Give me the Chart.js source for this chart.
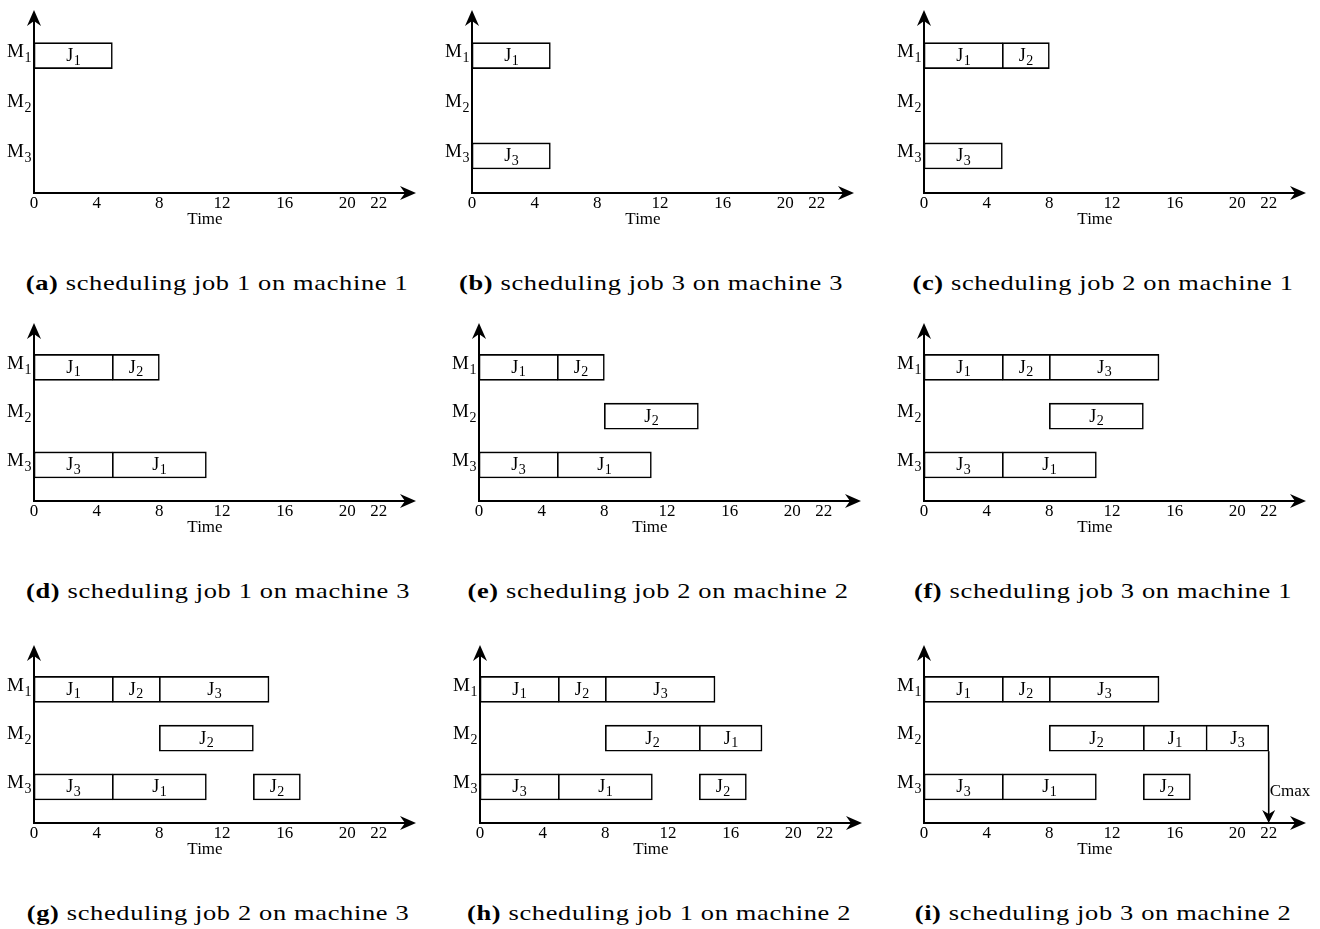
<!DOCTYPE html>
<html>
<head>
<meta charset="utf-8">
<script src="https://cdn.jsdelivr.net/npm/chart.js@4/dist/chart.umd.min.js"></script>
<style>
  html, body { margin: 0; padding: 0; background: #fff; }
  body { width: 1320px; height: 929px; position: relative; overflow: hidden; }
  canvas { position: absolute; }
  .caption {
    position: absolute; width: 520px; text-align: center; white-space: nowrap;
    font-family: "Liberation Serif", "Times New Roman", serif; font-size: 22px; line-height: 22px;
    letter-spacing: 0.55px; color: #000;
    transform: scaleX(1.2); transform-origin: 50% 50%;
  }
  .caption b { font-weight: bold; }
</style>
</head>
<body>
<script>
// Schedule operations, in the order they are placed on the machines.
const machineNames = ['M', 'M', 'M'];
const machineNumbers = [1, 2, 3];
const opJob     = [1, 3, 2, 1, 2, 3, 2, 1, 3];
const opMachine = [1, 3, 1, 3, 2, 1, 3, 2, 2];
const opStart   = [0, 0, 5, 5, 8, 8, 14, 14, 18];
const opEnd     = [5, 5, 8, 11, 14, 15, 17, 18, 22];
const timeTicks = [0, 4, 8, 12, 16, 20, 22];
const panelLetters = ['a', 'b', 'c', 'd', 'e', 'f', 'g', 'h', 'i'];
const makespan = 22;

// Page layout of the nine small charts.
const originX = [34, 472, 924, 34, 479, 924, 34, 480, 924];
const axisY   = [193, 193, 193, 501, 501, 501, 823, 823, 823];
const plotH   = [183, 183, 183, 178, 178, 178, 178, 178, 178];
const captionCenter = [217, 651, 1103, 218, 658, 1103, 218, 659, 1103];
const captionBaseline = [290, 290, 290, 598, 598, 598, 920, 920, 920];

const SERIF = '"Liberation Serif", "Times New Roman", serif';
const Y_AXIS_W = 40, X_AXIS_H = 46, PAD_TOP = 14, PAD_RIGHT = 12;
const PLOT_W = 382;
const CW = Y_AXIS_W + PLOT_W + PAD_RIGHT;
const EDGE = 1.6;

function arrowHead(ctx, tipX, tipY, dx, dy, len, half, notch) {
  const px = -dy, py = dx;
  ctx.beginPath();
  ctx.moveTo(tipX, tipY);
  ctx.lineTo(tipX - dx * len + px * half, tipY - dy * len + py * half);
  ctx.lineTo(tipX - dx * notch, tipY - dy * notch);
  ctx.lineTo(tipX - dx * len - px * half, tipY - dy * len - py * half);
  ctx.closePath();
  ctx.fill();
}

// Letter with a numeric subscript, e.g. J1 / M3.
function subText(ctx, main, sub, x, y, align, mainSize, subSize, mainDy, subDy) {
  ctx.font = mainSize + 'px ' + SERIF;
  const mw = ctx.measureText(main).width;
  ctx.font = subSize + 'px ' + SERIF;
  const sw = ctx.measureText(sub).width;
  let x0 = x;
  if (align === 'center') x0 = x - (mw + sw) / 2;
  else if (align === 'right') x0 = x - (mw + sw);
  ctx.textAlign = 'left';
  ctx.textBaseline = 'alphabetic';
  ctx.font = mainSize + 'px ' + SERIF;
  ctx.fillText(main, x0, y + mainDy);
  ctx.font = subSize + 'px ' + SERIF;
  ctx.fillText(sub, x0 + mw + 0.5, y + subDy);
}

const ganttDecor = {
  id: 'ganttDecor',
  afterDatasetsDraw(chart) {
    const ctx = chart.ctx;
    const ds = chart.data.datasets[0];
    const meta = chart.getDatasetMeta(0);
    ctx.save();
    ctx.fillStyle = '#000';
    meta.data.forEach((bar, i) => {
      const cx = (bar.x + bar.base) / 2;
      subText(ctx, 'J', String(ds.data[i].job), cx, bar.y, 'center', 18, 14, 5.5, 9);
    });
    ctx.restore();
  },
  afterDraw(chart, args, opts) {
    const ctx = chart.ctx;
    const a = chart.chartArea;
    const xs = chart.scales.x, ys = chart.scales.y;
    ctx.save();
    ctx.strokeStyle = '#000';
    ctx.fillStyle = '#000';
    ctx.lineWidth = 2;
    // axes with arrow heads
    ctx.beginPath();
    ctx.moveTo(a.left - 1, a.bottom);
    ctx.lineTo(a.right - 10, a.bottom);
    ctx.moveTo(a.left, a.bottom + 1);
    ctx.lineTo(a.left, a.top + 10);
    ctx.stroke();
    arrowHead(ctx, a.right, a.bottom, 1, 0, 16, 7, 11);
    arrowHead(ctx, a.left, a.top, 0, -1, 16, 7, 11);
    // machine labels
    machineNumbers.forEach((n, i) => {
      const y = ys.getPixelForValue(n);
      subText(ctx, machineNames[i], String(n), a.left - 3, y, 'right', 19, 14, 1.2, 6.3);
    });
    // axis title
    ctx.font = '17px ' + SERIF;
    ctx.textAlign = 'center';
    ctx.textBaseline = 'alphabetic';
    ctx.fillText('Time', a.left + 171, a.bottom + 31);
    // makespan marker
    if (opts && opts.showMakespan) {
      const x = xs.getPixelForValue(makespan);
      const yTop = ys.getPixelForValue(2) + 13;
      ctx.lineWidth = 1.6;
      ctx.beginPath();
      ctx.moveTo(x, yTop);
      ctx.lineTo(x, a.bottom - 8);
      ctx.stroke();
      arrowHead(ctx, x, a.bottom, 0, 1, 13, 6.5, 9);
      ctx.font = '17px ' + SERIF;
      ctx.textAlign = 'left';
      ctx.fillText('Cmax', x + 1, ys.getPixelForValue(3) + 9.5);
    }
    ctx.restore();
  }
};

panelLetters.forEach((letter, k) => {
  const CH = PAD_TOP + plotH[k] + X_AXIS_H;
  const canvas = document.createElement('canvas');
  canvas.width = CW;
  canvas.height = CH;
  canvas.style.width = CW + 'px';
  canvas.style.height = CH + 'px';
  canvas.style.left = (originX[k] - Y_AXIS_W) + 'px';
  canvas.style.top = (axisY[k] - PAD_TOP - plotH[k]) + 'px';
  document.body.appendChild(canvas);

  const ops = opJob.slice(0, k + 1).map((_, i) => i);
  const rows = ops.map(i => ({ x: [opStart[i], opEnd[i]], y: opMachine[i], job: opJob[i] }));
  new Chart(canvas, {
    type: 'bar',
    data: {
      datasets: [{
        data: rows,
        backgroundColor: '#fff',
        borderColor: '#000',
        // a block that is directly followed by another on the same machine
        // shares its right edge with the next block's left edge
        borderWidth: (c) => {
          const d = c.raw;
          const joined = rows.some(r => r.y === d.y && r.x[0] === d.x[1]);
          return { top: EDGE, bottom: EDGE, left: EDGE, right: joined ? 0 : EDGE };
        },
        borderSkipped: false,
        barThickness: 26
      }]
    },
    options: {
      indexAxis: 'y',
      responsive: false,
      animation: false,
      devicePixelRatio: 1,
      layout: { padding: { top: PAD_TOP, right: PAD_RIGHT, left: 0, bottom: 0 } },
      plugins: {
        legend: { display: false },
        tooltip: { enabled: false },
        ganttDecor: { showMakespan: k === panelLetters.length - 1 }
      },
      scales: {
        x: {
          type: 'linear', min: 0, max: 24.38, offset: false,
          grid: { display: false, drawTicks: false },
          border: { display: false },
          ticks: { autoSkip: false, maxRotation: 0, padding: 0, color: '#000',
                   font: { family: SERIF, size: 17 } },
          afterBuildTicks(scale) { scale.ticks = timeTicks.map(v => ({ value: v })); },
          afterFit(scale) { scale.height = X_AXIS_H; }
        },
        y: {
          type: 'linear', reverse: true, min: 0.09, max: 3.74, offset: false,
          grid: { display: false, drawTicks: false },
          border: { display: false },
          ticks: { display: false },
          afterFit(scale) { scale.width = Y_AXIS_W; }
        }
      }
    },
    plugins: [ganttDecor]
  });

  const cap = document.createElement('div');
  cap.className = 'caption';
  cap.innerHTML = '<b>(' + letter + ')</b> scheduling job ' + opJob[k] + ' on machine ' + opMachine[k];
  cap.style.left = (captionCenter[k] - 260) + 'px';
  cap.style.top = (captionBaseline[k] - 18.4) + 'px';
  document.body.appendChild(cap);
});
</script>
</body>
</html>
